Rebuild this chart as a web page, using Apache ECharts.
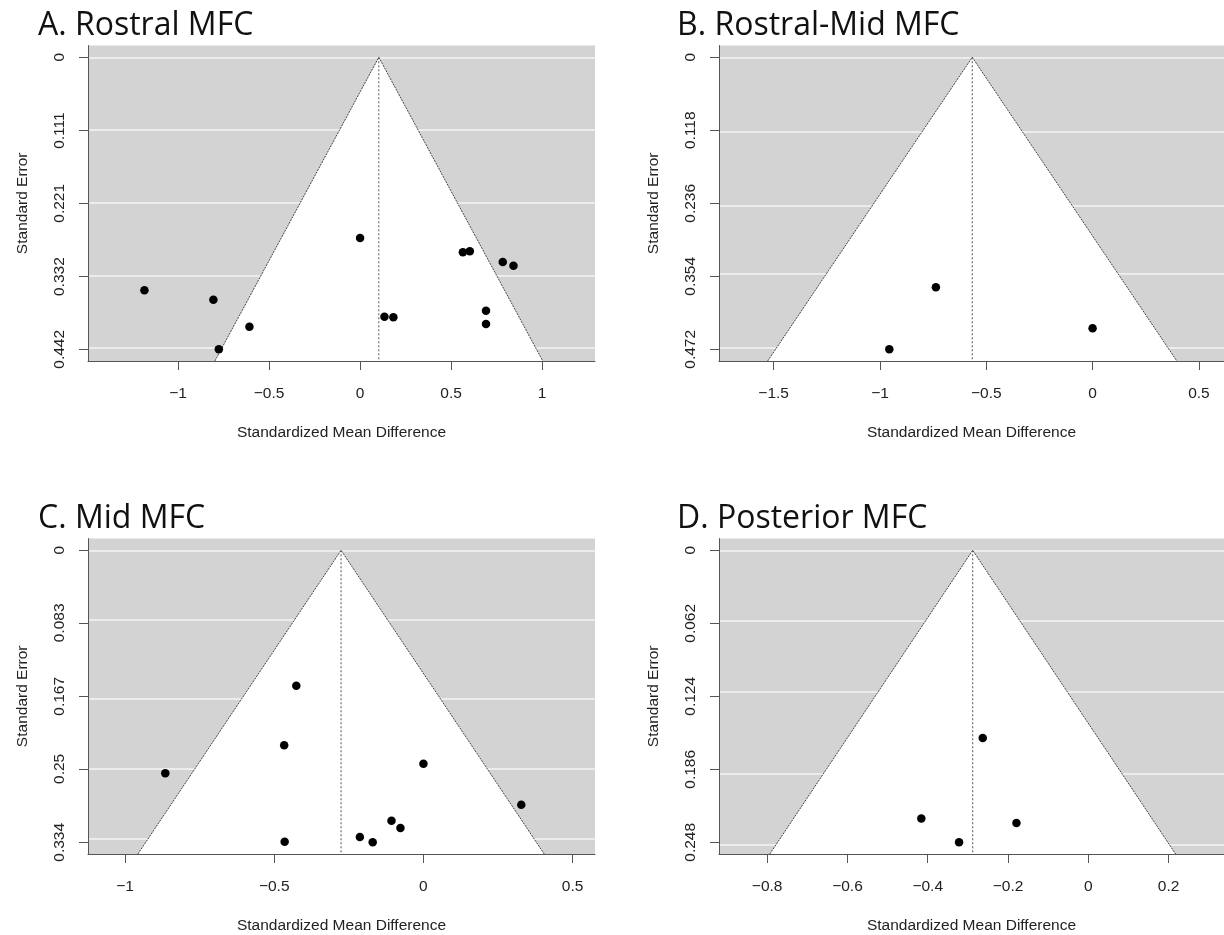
<!DOCTYPE html>
<html>
<head>
<meta charset="utf-8">
<script src="https://cdn.jsdelivr.net/npm/echarts@6.0.0/dist/echarts.min.js"></script>
<style>
  html, body { margin: 0; padding: 0; background: #fff; }
  #main { width: 1224px; height: 935px; }
</style>
</head>
<body>
<div id="main"></div>
<script>
// panel titles
const titles = ['A. Rostral MFC', 'B. Rostral-Mid MFC', 'C. Mid MFC', 'D. Posterior MFC']
// pooled estimate (centre of each funnel)
const centers = [0.103, -0.566, -0.276, -0.288]
// standard error ticks (y)
const seTicks = [
  [0, 0.111, 0.221, 0.332, 0.442],
  [0, 0.118, 0.236, 0.354, 0.472],
  [0, 0.083, 0.167, 0.25, 0.334],
  [0, 0.062, 0.124, 0.186, 0.248]
]
// standardized mean difference ticks (x)
const smdTicks = [
  [-1, -0.5, 0, 0.5, 1],
  [-1.5, -1, -0.5, 0, 0.5],
  [-1, -0.5, 0, 0.5],
  [-0.8, -0.6, -0.4, -0.2, 0, 0.2]
]
// studies: [smd, se]
const studiesA = [
  [0, 0.2735], [0.565, 0.295], [0.603, 0.2937], [0.784, 0.31], [0.843, 0.3154],
  [-1.185, 0.3527], [-0.806, 0.3668], [-0.608, 0.4077], [-0.776, 0.442],
  [0.134, 0.3926], [0.183, 0.3936], [0.692, 0.3835], [0.692, 0.4037]
]
const studiesB = [[-0.737, 0.3718], [0, 0.438], [-0.956, 0.472]]
const studiesC = [
  [-0.426, 0.155], [-0.4665, 0.2231], [-0.865, 0.2551], [0, 0.2441], [0.328, 0.2909],
  [-0.107, 0.3092], [-0.077, 0.3176], [-0.213, 0.3279], [-0.17, 0.334], [-0.465, 0.3333]
]
const studiesD = [[-0.263, 0.1595], [-0.416, 0.2277], [-0.179, 0.2316], [-0.322, 0.248]]
const studies = [studiesA, studiesB, studiesC, studiesD]

// plot regions (px) and axis ranges, like R's usr
const grids = [
  { left: 88, top: 45.6, width: 507, height: 315.4 },
  { left: 719, top: 45.6, right: 0, height: 315.4 },
  { left: 88, top: 538.6, width: 507, height: 315.8 },
  { left: 719, top: 538.6, right: 0, height: 315.8 }
]
const xRange = [[-1.495, 1.291], [-1.757, 0.618], [-1.124, 0.575], [-0.92, 0.338]]
const titlePos = [[38, 10], [677, 10], [38, 503], [677, 503]]

const fmt = v => (v < 0 ? '\u2212' + String(-v) : String(v))
const axisFont = 'Liberation Sans, Arial, sans-serif'
const axisSize = 15.5

function funnelItem (c, seMax) {
  return function (params, api) {
    const apex = api.coord([c, 0])
    const left = api.coord([c - 1.96 * seMax, seMax])
    const right = api.coord([c + 1.96 * seMax, seMax])
    const base = api.coord([c, seMax])
    return {
      type: 'group',
      children: [
        { type: 'polygon', shape: { points: [left, apex, right] }, style: { fill: '#fff' } },
        { type: 'polyline', shape: { points: [left, apex, right] }, style: { fill: null, stroke: '#444', lineWidth: 1, lineDash: [2, 1] } },
        { type: 'line', shape: { x1: apex[0], y1: apex[1], x2: base[0], y2: base[1] }, style: { stroke: '#555', lineWidth: 1, lineDash: [2, 2] } }
      ]
    }
  }
}

const option = {
  animation: false,
  backgroundColor: '#fff',
  title: titles.map((t, i) => ({
    text: t,
    left: titlePos[i][0],
    top: titlePos[i][1],
    padding: 0,
    textStyle: { fontFamily: 'Open Sans', fontSize: 32, fontWeight: 'normal', color: '#111' }
  })),
  grid: grids.map(g => Object.assign({ show: true, backgroundColor: '#d3d3d3', borderWidth: 0 }, g)),
  xAxis: grids.map((g, i) => ({
    gridIndex: i,
    type: 'value',
    min: xRange[i][0],
    max: xRange[i][1],
    z: 5,
    axisLine: { show: true, onZero: false, lineStyle: { color: '#555', width: 1 } },
    axisTick: { show: true, customValues: smdTicks[i], length: 9, lineStyle: { color: '#555' } },
    axisLabel: { customValues: smdTicks[i], margin: 25, fontSize: axisSize, fontFamily: axisFont, color: '#222', formatter: fmt },
    splitLine: { show: false },
    name: 'Standardized Mean Difference',
    nameLocation: 'middle',
    nameGap: 64,
    nameTextStyle: { fontSize: axisSize, fontFamily: axisFont, color: '#222' }
  })),
  yAxis: grids.map((g, i) => {
    const ticks = seTicks[i]
    const top = ticks[ticks.length - 1]
    const pad = top * 0.04
    return {
      gridIndex: i,
      type: 'value',
      inverse: true,
      min: -pad,
      max: top + pad,
      z: 5,
      axisLine: { show: true, onZero: false, lineStyle: { color: '#555', width: 1 } },
      axisTick: { show: true, customValues: ticks, length: 9, lineStyle: { color: '#555' } },
      axisLabel: { customValues: ticks, rotate: 90, margin: 20, fontSize: axisSize, fontFamily: axisFont, color: '#222', formatter: fmt },
      splitLine: { show: false },
      name: 'Standard Error',
      nameLocation: 'middle',
      nameRotate: 90,
      nameGap: 57,
      nameTextStyle: { fontSize: axisSize, fontFamily: axisFont, color: '#222' }
    }
  }),
  series: []
}

studies.forEach((pts, i) => {
  const ticks = seTicks[i]
  const seMax = ticks[ticks.length - 1] * 1.04
  // white reference lines at the y ticks, under the funnel
  option.series.push({
    type: 'line',
    xAxisIndex: i,
    yAxisIndex: i,
    data: [],
    z: 1,
    silent: true,
    markLine: {
      z: 1,
      symbol: 'none',
      silent: true,
      label: { show: false },
      lineStyle: { color: '#f4f4f4', width: 1.5, type: 'solid' },
      data: ticks.map(v => ({ yAxis: v }))
    }
  })
  option.series.push({
    type: 'custom',
    xAxisIndex: i,
    yAxisIndex: i,
    z: 2,
    silent: true,
    renderItem: funnelItem(centers[i], seMax),
    data: [[centers[i], 0]]
  })
  option.series.push({
    type: 'scatter',
    xAxisIndex: i,
    yAxisIndex: i,
    z: 3,
    symbolSize: 8.5,
    itemStyle: { color: '#000', opacity: 1 },
    data: pts
  })
})

const myChart = echarts.init(document.getElementById('main'))
myChart.setOption(option)
</script>
</body>
</html>
